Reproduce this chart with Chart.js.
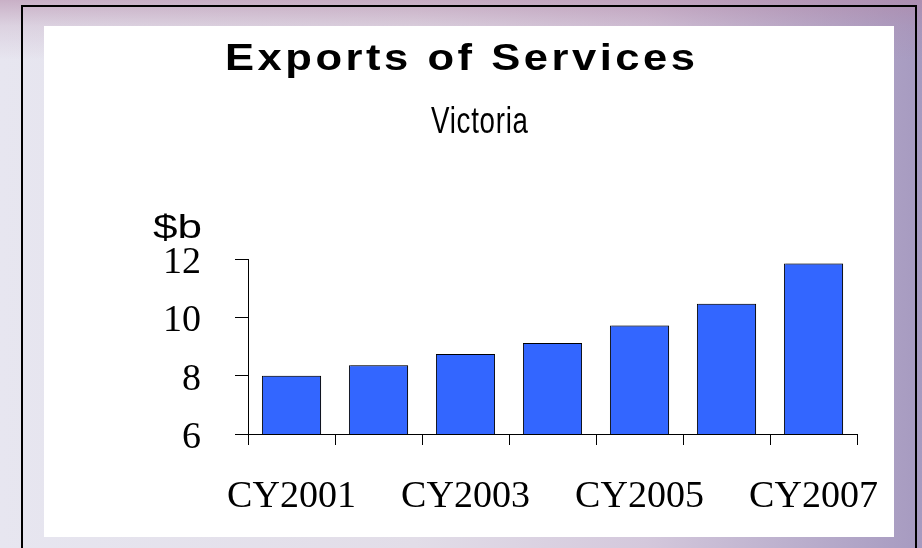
<!DOCTYPE html>
<html>
<head>
<meta charset="utf-8">
<script src="https://cdn.jsdelivr.net/npm/chart.js@4"></script>
<style>
  html, body { margin:0; padding:0; }
  body {
    width:922px; height:548px; overflow:hidden; position:relative;
    background:
      linear-gradient(to bottom, rgba(176,132,164,.55) 0, rgba(176,132,164,.2) 26px, rgba(176,132,164,0) 60px),
      linear-gradient(to right, #e7e6f0 0%, #e2dde8 45%, #d4c8dc 70%, #a69ac0 100%);
  }
  .frame {
    position:absolute; left:21px; top:5px; width:896px; height:600px;
    border:2px solid #000; box-sizing:border-box;
  }
  .panel {
    position:absolute; left:44px; top:26px; width:850px; height:511px;
    background:#fff;
  }
</style>
</head>
<body>
<div class="frame"></div>
<div class="panel"><canvas id="chart-exports" width="850" height="511"></canvas></div>

<script>
// ============ DADOS ============
var categorias = ['CY2001','CY2002','CY2003','CY2004','CY2005','CY2006','CY2007'];
var valores    = [8.0, 8.36, 8.74, 9.12, 9.72, 10.47, 11.85];
var ticksY     = [6, 8, 10, 12];

var titulo    = 'Exports of Services';
var subtitulo = 'Victoria';
var unidade   = '$b';

var sans  = "'Liberation Sans', Arial, sans-serif";
var serif = "'Liberation Serif', 'Times New Roman', serif";

// texto esticado para caber numa largura (imagem original está deformada)
function textoAjustado(ctx, txt, font, left, base, largura, espaco) {
  ctx.save();
  ctx.font = font;
  ctx.textAlign = 'left';
  ctx.textBaseline = 'alphabetic';
  if (espaco && 'letterSpacing' in ctx) ctx.letterSpacing = espaco + 'px';
  var w = ctx.measureText(txt).width - (espaco || 0);
  ctx.translate(left, base);
  ctx.scale(largura / w, 1);
  ctx.fillText(txt, 0, 0);
  ctx.restore();
}

// ============ TÍTULOS ============
var pluginTextos = {
  id: 'textos',
  afterDraw: function(chart) {
    var ctx = chart.ctx;
    ctx.save();
    ctx.fillStyle = '#000';
    textoAjustado(ctx, titulo, 'bold 37px ' + sans, 181, 44, 470, 3);
    textoAjustado(ctx, subtitulo, '37px ' + sans, 387, 107, 97, 1);
    textoAjustado(ctx, unidade, '33px ' + sans, 109, 212, 49);
    ctx.restore();
  }
};

// sombra leve à direita das barras
var pluginSombra = {
  id: 'sombra',
  beforeDatasetsDraw: function(chart) {
    var ctx = chart.ctx;
    ctx.save();
    ctx.shadowColor = 'rgba(0,0,0,0.35)';
    ctx.shadowOffsetX = 2;
    ctx.shadowOffsetY = 0;
    ctx.shadowBlur = 0;
  },
  afterDatasetsDraw: function(chart) {
    chart.ctx.restore();
  }
};

// ============ GRÁFICO ============
var canvas = document.getElementById('chart-exports');
new Chart(canvas, {
  type: 'bar',
  data: {
    labels: categorias,
    datasets: [{
      label: 'Exports of Services',
      data: valores,
      backgroundColor: '#3366ff',
      borderColor: '#000',
      borderWidth: 1,
      barPercentage: 0.68,
      categoryPercentage: 1
    }]
  },
  options: {
    responsive: false,
    animation: false,
    layout: { padding: { top: 233, right: 37, bottom: 0, left: 0 } },
    plugins: {
      legend: { display: false },
      tooltip: { enabled: false },
      title: { display: false }
    },
    scales: {
      x: {
        grid: { offset: true, drawOnChartArea: false, tickLength: 11, color: '#000', lineWidth: 1 },
        border: { color: '#000', width: 1 },
        ticks: {
          autoSkip: false, maxRotation: 0, padding: 29, color: '#000',
          font: { family: serif, size: 38 },
          callback: function(v, i) { return i % 2 === 0 ? categorias[i] : ''; }
        },
        afterFit: function(s) {
          s.height = 103;
          s.paddingLeft = 0;
          s.paddingRight = 0;
        }
      },
      y: {
        min: ticksY[0],
        max: ticksY[ticksY.length - 1],
        afterBuildTicks: function(s) {
          s.ticks = ticksY.map(function(v) { return { value: v }; });
        },
        grid: { drawOnChartArea: false, tickLength: 13, color: '#000', lineWidth: 1 },
        border: { color: '#000', width: 1 },
        ticks: {
          padding: 34, labelOffset: 4, color: '#000',
          font: { family: serif, size: 38 }
        },
        afterFit: function(s) {
          s.width = 204;
          s.paddingTop = 0;
          s.paddingBottom = 0;
        }
      }
    }
  },
  plugins: [pluginSombra, pluginTextos]
});
</script>
</body>
</html>
